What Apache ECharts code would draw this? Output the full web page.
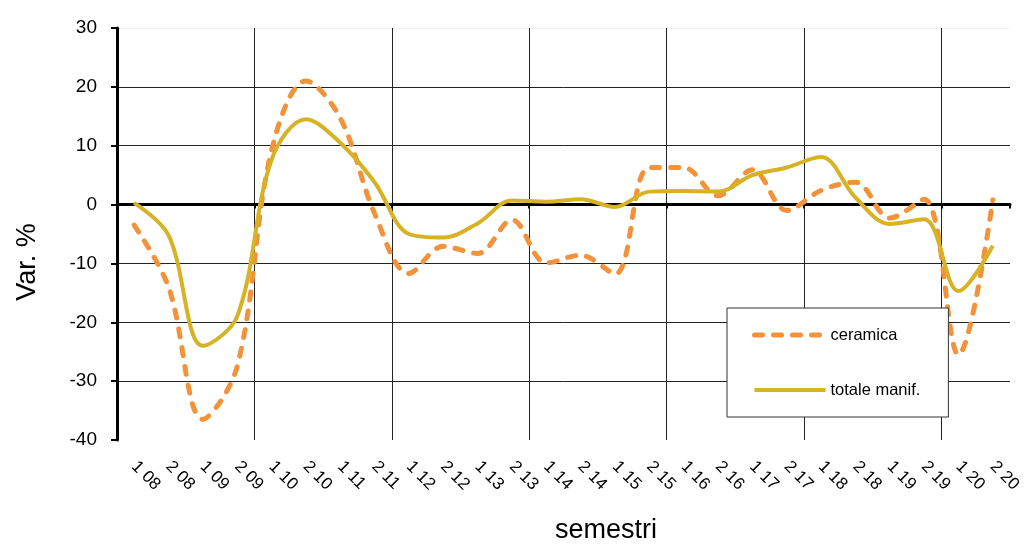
<!DOCTYPE html>
<html>
<head>
<meta charset="utf-8">
<script src="https://cdn.jsdelivr.net/npm/echarts@6/dist/echarts.min.js"></script>
<style>
  html, body { margin: 0; padding: 0; background: #fff; }
  #chart { width: 1029px; height: 546px; }
</style>
</head>
<body>
<div id="chart"></div>
<script>
// semestri (semestre + anno)
const categories = [
  '1 08', '2 08', '1 09', '2 09', '1 10', '2 10', '1 11', '2 11', '1 12', '2 12',
  '1 13', '2 13', '1 14', '2 14', '1 15', '2 15', '1 16', '2 16', '1 17', '2 17',
  '1 18', '2 18', '1 19', '2 19', '1 20', '2 20'
];

// Var. % ceramica
const ceramica = [
  -3.5, -14, -36.5, -27.5, 9.2, 21, 14.7, -1.5, -11.7, -7.1,
  -8.3, -2.6, -9.9, -8.6, -11.8, 6.3, 6.3, 1.5, 5.9, -1,
  2.4, 3.8, -2.3, 0.9, -25.5, 0.8
];

// Var. % totale manifatturiero
const totaleManif = [
  0.3, -5.2, -24, -19, 7.6, 14.5, 10.5, 3.8, -5, -5.6,
  -3.2, 0.7, 0.5, 0.9, -0.4, 2.2, 2.3, 2.2, 5, 6.3,
  8.1, 1.2, -3.3, -2.5, -14.7, -7
];

const yMin = -40;
const yMax = 30;
const yStep = 10;

const font = '"Liberation Sans", Arial, sans-serif';

const chart = echarts.init(document.getElementById('chart'));

const options = {
  animation: false,
  backgroundColor: '#fff',
  grid: { left: 117, right: 19, top: 28, bottom: 106 },
  legend: {
    orient: 'vertical',
    left: 727,
    top: 308,
    padding: [17, 28, 17, 25],
    itemGap: 35,
    itemWidth: 71,
    itemHeight: 14,
    borderColor: '#333',
    borderWidth: 1,
    backgroundColor: '#fff',
    itemStyle: { opacity: 0 },
    lineStyle: { width: 'inherit' },
    textStyle: { fontFamily: font, fontSize: 16.5, color: '#000', lineHeight: 20 },
    data: ['ceramica', 'totale manif.']
  },
  xAxis: [
    {
      // etichette in basso
      type: 'category',
      data: categories,
      boundaryGap: true,
      axisLine: { show: false, onZero: false },
      axisTick: { show: false },
      axisLabel: {
        interval: 0,
        rotate: -45,
        margin: 24,
        fontFamily: font,
        fontSize: 17,
        color: '#000'
      },
      splitLine: {
        show: true,
        interval: function (index) { return index % 4 === 0; },
        showMaxLine: false,
        lineStyle: { color: '#222', width: 1 }
      }
    },
    {
      // linea dello zero
      type: 'category',
      data: categories,
      position: 'bottom',
      boundaryGap: true,
      axisLine: { show: true, onZero: true, lineStyle: { color: '#000', width: 3 } },
      axisTick: {
        show: true,
        interval: function (index) { return index % 4 === 0; },
        length: 4,
        lineStyle: { color: '#000', width: 2 }
      },
      axisLabel: { show: false },
      splitLine: { show: false }
    }
  ],
  yAxis: {
    type: 'value',
    min: yMin,
    max: yMax,
    interval: yStep,
    axisLine: { show: true, onZero: false, lineStyle: { color: '#000', width: 3 } },
    axisTick: { show: true, length: 6, lineStyle: { color: '#000', width: 2 } },
    axisLabel: { margin: 20, fontFamily: font, fontSize: 19, color: '#000' },
    splitLine: {
      show: true,
      lineStyle: {
        color: ['rgba(0,0,0,0)', '#222', '#222', '#222', '#222', '#222', '#222', '#f0f0f0'],
        width: 1
      }
    }
  },
  graphic: [
    {
      type: 'text',
      x: 28,
      y: 262,
      rotation: Math.PI / 2,
      style: {
        text: 'Var. %',
        fontFamily: font,
        fontSize: 27,
        fill: '#000',
        align: 'center',
        verticalAlign: 'middle'
      }
    },
    {
      type: 'text',
      x: 606,
      y: 531,
      style: {
        text: 'semestri',
        fontFamily: font,
        fontSize: 27,
        fill: '#000',
        align: 'center',
        verticalAlign: 'middle'
      }
    }
  ],
  series: [
    {
      name: 'ceramica',
      type: 'line',
      data: ceramica,
      smooth: 0.35,
      symbol: 'none',
      z: 3,
      itemStyle: { color: '#F2923A' },
      lineStyle: { color: '#F2923A', width: 5, type: [8, 11], cap: 'round' }
    },
    {
      name: 'totale manif.',
      type: 'line',
      data: totaleManif,
      smooth: 0.35,
      symbol: 'none',
      z: 4,
      itemStyle: { color: '#D6B224' },
      lineStyle: { color: '#D6B224', width: 4 }
    }
  ]
};

chart.setOption(options);
</script>
</body>
</html>
